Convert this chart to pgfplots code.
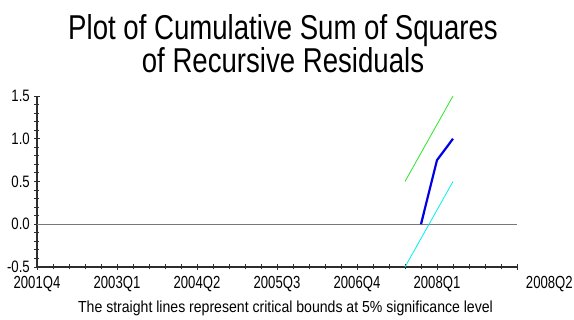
\documentclass[border=0pt]{standalone}
\usepackage{fontspec}
\setmainfont{Liberation Sans}
\newfontfamily\nf[FakeStretch=0.8]{Liberation Sans}
\newfontfamily\nft[FakeStretch=0.75]{Liberation Sans}
\newfontfamily\nfb[FakeStretch=0.88]{Liberation Sans}
\usepackage{pgfplots}
\pgfplotsset{compat=1.18}
\definecolor{axisgray}{RGB}{45,45,45}
\definecolor{zerogray}{RGB}{120,120,120}
\definecolor{bluel}{RGB}{0,0,230}
\definecolor{greenl}{RGB}{40,230,40}
\definecolor{cyanl}{RGB}{0,240,240}
\begin{document}
\begin{tikzpicture}
\begin{axis}[
  at={(0,0)}, anchor=south west,
  scale only axis, width=480pt, height=171pt,
  xmin=0, xmax=30, ymin=-0.5, ymax=1.5,
  axis x line*=bottom, axis y line*=left,
  axis line style={-, axisgray, line width=1.1pt},
  every tick/.style={axisgray, line width=0.9pt},
  tick align=center,
  major tick length=6pt, minor tick length=5pt,
  xtick={0,5,10,15,20,25,30},
  xticklabels={2001Q4,2003Q1,2004Q2,2005Q3,2006Q4,2008Q1,\makebox[0pt][l]{\hspace{9pt}2008Q2}},
  minor x tick num=4,
  ytick={-0.5,0,0.5,1,1.5},
  yticklabels={-0.5,0.0,0.5,1.0,1.5},
  minor y tick num=4,
  xticklabel style={font=\nft\fontsize{17.5}{17.5}\selectfont, anchor=base, inner sep=0pt, yshift=-19pt},
  yticklabel style={font=\nf\fontsize{16.5}{16.5}\selectfont, anchor=east, inner sep=0pt, xshift=-4pt},
  clip=false,
]
\addplot[zerogray, line width=0.6pt] coordinates {(0,0) (30,0)};
\addplot[greenl, line width=0.8pt] coordinates {(23,0.5) (26,1.5)};
\addplot[cyanl, line width=0.8pt] coordinates {(23,-0.5) (26,0.5)};
\addplot[bluel, line width=2.2pt] coordinates {(24,0) (25,0.75) (26,1.0)};
\end{axis}
\node[anchor=base, font=\nf\fontsize{34.5}{34.5}\selectfont] at (246pt,227pt) {Plot of Cumulative Sum of Squares};
\node[anchor=base, font=\nf\fontsize{34.5}{34.5}\selectfont] at (246pt,194pt) {of Recursive Residuals};
\node[anchor=base, font=\nfb\fontsize{16}{16}\selectfont] at (248.5pt,-46pt) {The straight lines represent critical bounds at 5\% significance level};
\pgfresetboundingbox
\useasboundingbox (-37pt,-53pt) rectangle (537pt,267pt);
\end{tikzpicture}
\end{document}
